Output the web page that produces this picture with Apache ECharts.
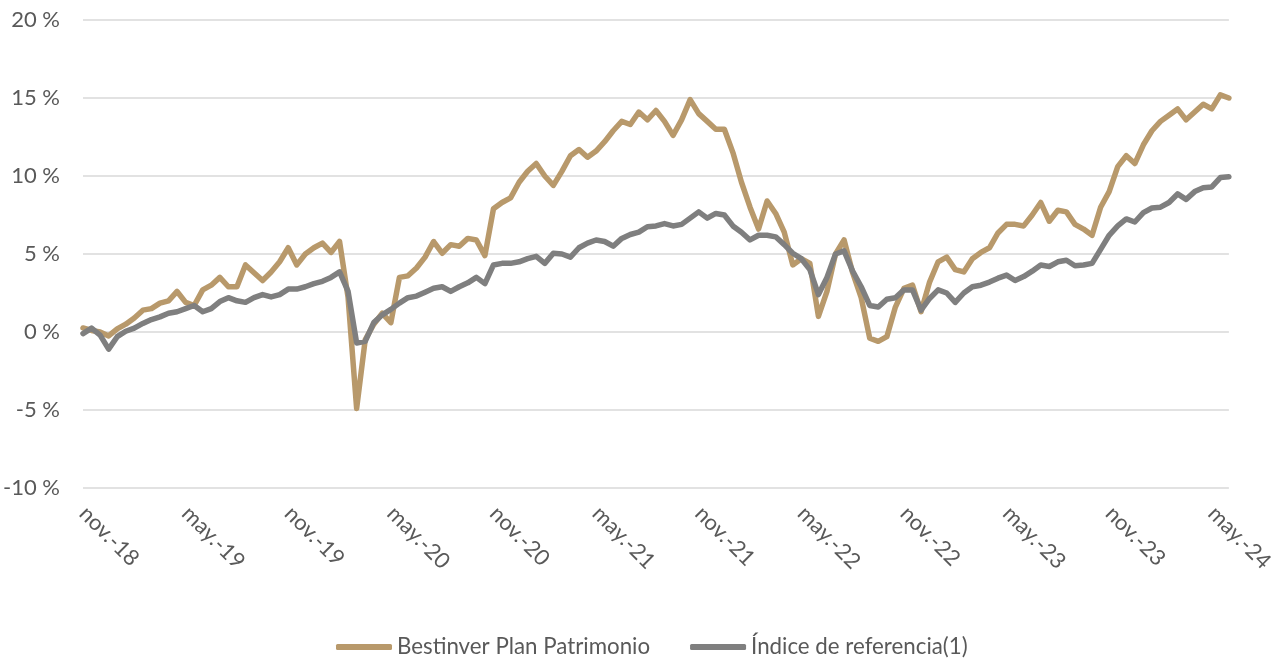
<!DOCTYPE html>
<html>
<head>
<meta charset="utf-8">
<script src="https://cdn.jsdelivr.net/npm/echarts@6/dist/echarts.min.js"></script>
<style>html,body{margin:0;padding:0;background:#fff;}#c{width:1277px;height:664px;}</style>
</head>
<body>
<div id="c"></div>
<script>
// Semi-monthly observations from nov-2018 to jun-2024 (values in %)
const seriesNames = ['Bestinver Plan Patrimonio', 'Índice de referencia(1)'];
const tickLabels = ['nov.-18','may.-19','nov.-19','may.-20','nov.-20','may.-21','nov.-21','may.-22','nov.-22','may.-23','nov.-23','may.-24'];
const plan = [
 0.26,0.1,0.0,-0.25,0.2,0.5,0.9,1.4,1.5,1.85,2.0,2.6,
 1.9,1.7,2.7,3.0,3.5,2.9,2.9,4.3,3.8,3.3,3.85,4.5,
 5.4,4.3,5.0,5.4,5.7,5.1,5.8,2.2,-4.9,-0.5,0.5,1.2,
 0.6,3.5,3.6,4.1,4.8,5.8,5.05,5.6,5.5,6.0,5.9,4.9,
 7.9,8.3,8.6,9.6,10.3,10.8,10.0,9.4,10.3,11.3,11.7,11.2,
 11.6,12.2,12.9,13.5,13.3,14.1,13.6,14.2,13.5,12.6,13.6,14.9,
 14.0,13.5,13.0,13.0,11.5,9.6,8.0,6.6,8.4,7.6,6.4,4.3,
 4.7,4.4,1.0,2.6,5.0,5.9,3.8,2.2,-0.4,-0.6,-0.3,1.6,
 2.8,3.0,1.3,3.2,4.5,4.8,4.0,3.85,4.7,5.1,5.4,6.35,
 6.9,6.9,6.8,7.5,8.3,7.1,7.8,7.7,6.9,6.6,6.2,8.0,
 9.0,10.6,11.3,10.8,12.0,12.9,13.5,13.9,14.3,13.6,14.1,14.6,
 14.3,15.2,15.0
];
const indice = [
 -0.1,0.25,-0.2,-1.1,-0.3,0.05,0.25,0.55,0.8,0.97,1.2,1.3,
 1.5,1.7,1.3,1.5,1.95,2.2,2.0,1.9,2.2,2.4,2.25,2.4,
 2.75,2.75,2.9,3.1,3.25,3.5,3.85,2.6,-0.7,-0.6,0.6,1.1,
 1.45,1.85,2.2,2.3,2.55,2.8,2.9,2.6,2.9,3.15,3.5,3.1,
 4.3,4.4,4.4,4.5,4.7,4.85,4.4,5.05,5.0,4.8,5.4,5.7,
 5.9,5.8,5.5,6.0,6.25,6.4,6.75,6.8,6.95,6.8,6.9,7.3,
 7.7,7.3,7.6,7.5,6.8,6.4,5.9,6.2,6.2,6.1,5.6,5.05,
 4.7,4.0,2.4,3.5,5.0,5.2,3.9,2.9,1.7,1.6,2.1,2.2,
 2.7,2.7,1.4,2.15,2.7,2.5,1.9,2.5,2.9,3.0,3.2,3.45,
 3.65,3.3,3.55,3.9,4.3,4.2,4.5,4.6,4.25,4.3,4.4,5.3,
 6.2,6.8,7.25,7.05,7.65,7.95,8.0,8.3,8.85,8.5,9.0,9.25,
 9.3,9.9,9.95
];
const categories = plan.map((_, i) => 'p' + i);

const font = 'Lato, "Liberation Sans", sans-serif';
const txt = '#595959';
const chart = echarts.init(document.getElementById('c'));
chart.setOption({
  animation: false,
  backgroundColor: '#ffffff',
  grid: { left: 83, right: 45, top: 20, bottom: 176, containLabel: false },
  legend: {
    bottom: 1,
    left: 331,
    itemGap: 40,
    itemWidth: 56,
    itemHeight: 6,
    icon: 'roundRect',
    textStyle: { color: txt, fontFamily: font, fontSize: 22.3 },
    data: seriesNames
  },
  xAxis: {
    type: 'category',
    data: categories,
    boundaryGap: false,
    axisLine: { show: false },
    axisTick: { show: false },
    splitLine: { show: false },
    axisLabel: {
      rotate: -45,
      margin: 22,
      color: txt,
      fontFamily: font,
      fontSize: 22,
      interval: (i) => i % 12 === 0,
      formatter: (v, i) => tickLabels[i / 12] || ''
    }
  },
  yAxis: {
    type: 'value',
    min: -10, max: 20, interval: 5,
    axisLine: { show: false },
    axisTick: { show: false },
    splitLine: { lineStyle: { color: '#D9D9D9', width: 1.5 } },
    axisLabel: {
      margin: 23,
      color: txt,
      fontFamily: font,
      fontSize: 22,
      formatter: '{value} %'
    }
  },
  series: [
    {
      name: seriesNames[0], type: 'line', data: plan, showSymbol: false, symbol: 'none',
      lineStyle: { color: '#B8996B', width: 5.5, cap: 'round', join: 'round' },
      itemStyle: { color: '#B8996B' }
    },
    {
      name: seriesNames[1], type: 'line', data: indice, showSymbol: false, symbol: 'none',
      lineStyle: { color: '#7F7F7F', width: 5.5, cap: 'round', join: 'round' },
      itemStyle: { color: '#7F7F7F' }
    }
  ]
});
</script>
</body>
</html>
